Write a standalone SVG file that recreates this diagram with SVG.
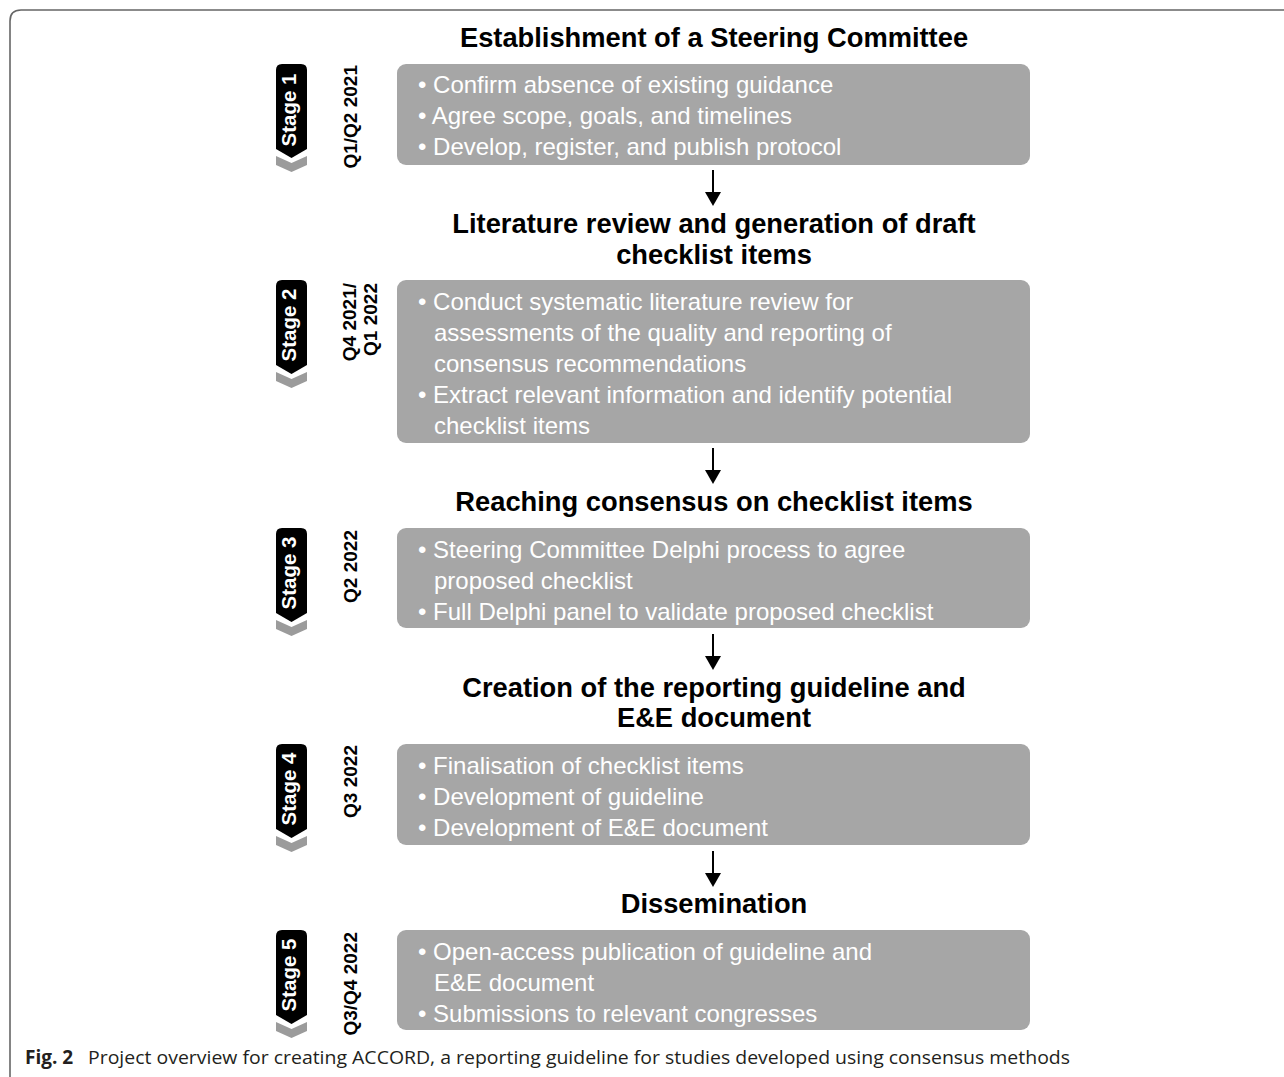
<svg xmlns="http://www.w3.org/2000/svg" width="1284" height="1077" viewBox="0 0 1284 1077">
<defs>
<style>
.frame{fill:none;stroke:#666;stroke-width:1.6}
.box{fill:#a6a6a6}
.bt{font-family:"Liberation Sans",Arial,sans-serif;font-size:24px;fill:#fff}
.title{font-family:"Liberation Sans",Arial,sans-serif;font-size:27.3px;font-weight:bold;fill:#000;text-anchor:middle}
.badge{fill:#000}
.chev{fill:#9b9b9b}
.st{font-family:"Liberation Sans",Arial,sans-serif;font-size:20.5px;font-weight:bold;fill:#fff;text-anchor:middle}
.date{font-family:"Liberation Sans",Arial,sans-serif;font-size:19px;font-weight:bold;fill:#000;text-anchor:end}
.arrow{stroke:#000;stroke-width:2;fill:none}
.cap{font-family:"Open Sans","Noto Sans","Liberation Sans",sans-serif;font-size:19px;fill:#231f20}
</style>
<marker id="ah" markerWidth="16" markerHeight="14" refX="8" refY="0" orient="0" markerUnits="userSpaceOnUse" viewBox="0 0 16 14">
<path d="M0,0 L16,0 L8,14 Z" fill="#000"/>
</marker>
<g id="badgeShape">
<path class="badge" d="M276,6 Q276,0 282,0 H301 Q307,0 307,6 V85 L291.5,94 L276,85 Z"/>
<path class="chev" d="M276,92 L291.5,99 L307,92 V101 L291.5,108 L276,101 Z"/>
</g>
</defs>

<path class="frame" d="M10,1077 V21 Q10,10 21,10 H1284"/>

<g id="stage1">
<use href="#badgeShape" transform="translate(0,64)"/>
<text class="st" transform="translate(296,110) rotate(-90)">Stage 1</text>
<text class="date" transform="translate(357,65) rotate(-90)">Q1/Q2 2021</text>
<text class="title" x="714" y="47">Establishment of a Steering Committee</text>
<rect class="box" x="397" y="64" width="633" height="101" rx="9"/>
<text class="bt"><tspan x="418" y="93">• Confirm absence of existing guidance</tspan><tspan x="418" y="124">• Agree scope, goals, and timelines</tspan><tspan x="418" y="155">• Develop, register, and publish protocol</tspan></text>
</g>

<g id="stage2">
<use href="#badgeShape" transform="translate(0,280)"/>
<text class="st" transform="translate(296,325) rotate(-90)">Stage 2</text>
<text class="date" transform="translate(356,283) rotate(-90)">Q4 2021/</text>
<text class="date" transform="translate(377,283) rotate(-90)">Q1 2022</text>
<text class="title" x="714" y="233">Literature review and generation of draft</text>
<text class="title" x="714" y="264">checklist items</text>
<rect class="box" x="397" y="280" width="633" height="163" rx="9"/>
<text class="bt"><tspan x="418" y="310">• Conduct systematic literature review for</tspan><tspan x="434" y="341">assessments of the quality and reporting of</tspan><tspan x="434" y="372">consensus recommendations</tspan><tspan x="418" y="403">• Extract relevant information and identify potential</tspan><tspan x="434" y="434">checklist items</tspan></text>
</g>

<g id="stage3">
<use href="#badgeShape" transform="translate(0,528)"/>
<text class="st" transform="translate(296,573) rotate(-90)">Stage 3</text>
<text class="date" transform="translate(357,530) rotate(-90)">Q2 2022</text>
<text class="title" x="714" y="511">Reaching consensus on checklist items</text>
<rect class="box" x="397" y="528" width="633" height="100" rx="9"/>
<text class="bt"><tspan x="418" y="558">• Steering Committee Delphi process to agree</tspan><tspan x="434" y="589">proposed checklist</tspan><tspan x="418" y="620">• Full Delphi panel to validate proposed checklist</tspan></text>
</g>

<g id="stage4">
<use href="#badgeShape" transform="translate(0,744)"/>
<text class="st" transform="translate(296,789) rotate(-90)">Stage 4</text>
<text class="date" transform="translate(357,745) rotate(-90)">Q3 2022</text>
<text class="title" x="714" y="697">Creation of the reporting guideline and</text>
<text class="title" x="714" y="727">E&amp;E document</text>
<rect class="box" x="397" y="744" width="633" height="101" rx="9"/>
<text class="bt"><tspan x="418" y="774">• Finalisation of checklist items</tspan><tspan x="418" y="805">• Development of guideline</tspan><tspan x="418" y="836">• Development of E&amp;E document</tspan></text>
</g>

<g id="stage5">
<use href="#badgeShape" transform="translate(0,930)"/>
<text class="st" transform="translate(296,975) rotate(-90)">Stage 5</text>
<text class="date" transform="translate(357,932) rotate(-90)">Q3/Q4 2022</text>
<text class="title" x="714" y="913">Dissemination</text>
<rect class="box" x="397" y="930" width="633" height="100" rx="9"/>
<text class="bt"><tspan x="418" y="960">• Open-access publication of guideline and</tspan><tspan x="434" y="991">E&amp;E document</tspan><tspan x="418" y="1022">• Submissions to relevant congresses</tspan></text>
</g>

<g id="connectors">
<line class="arrow" x1="713" y1="170" x2="713" y2="192" marker-end="url(#ah)"/>
<line class="arrow" x1="713" y1="448" x2="713" y2="470" marker-end="url(#ah)"/>
<line class="arrow" x1="713" y1="634" x2="713" y2="656" marker-end="url(#ah)"/>
<line class="arrow" x1="713" y1="851" x2="713" y2="873" marker-end="url(#ah)"/>
</g>

<g id="caption">
<text class="cap" x="25" y="1064" font-weight="bold">Fig. 2</text>
<text class="cap" x="88" y="1064" textLength="982" lengthAdjust="spacingAndGlyphs">Project overview for creating ACCORD, a reporting guideline for studies developed using consensus methods</text>
</g>
</svg>
